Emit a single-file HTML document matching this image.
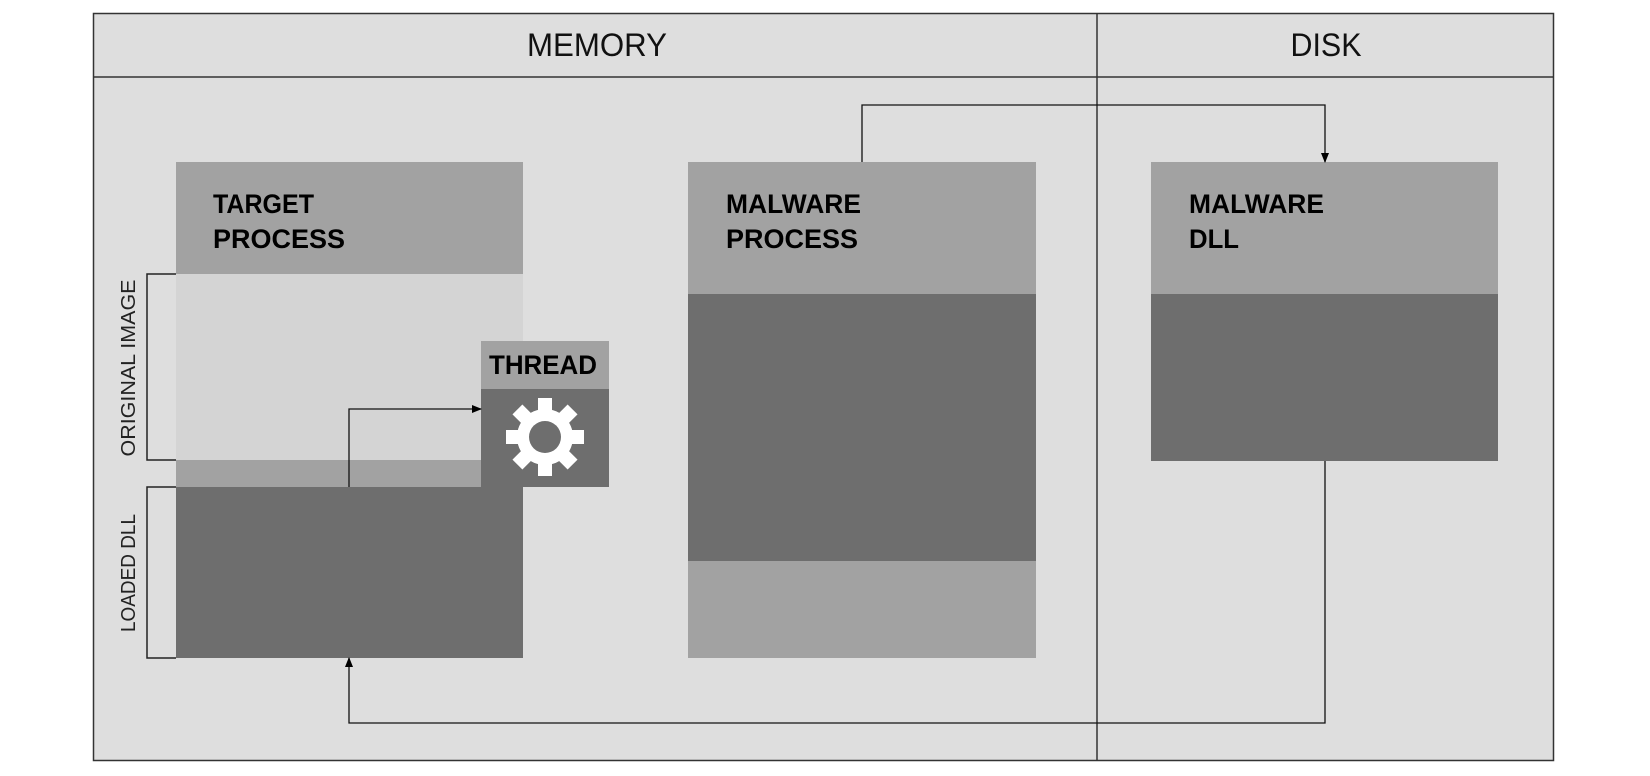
<!DOCTYPE html>
<html><head><meta charset="utf-8"><style>html,body{margin:0;padding:0;background:#fff}svg{display:block}</style></head>
<body>
<svg width="1650" height="776" viewBox="0 0 1650 776" xmlns="http://www.w3.org/2000/svg" font-family="Liberation Sans, sans-serif">
<defs><marker id="ah" markerWidth="10" markerHeight="10" refX="9" refY="5" orient="auto" markerUnits="userSpaceOnUse"><path d="M0,1 L10,5 L0,9 Z" fill="#000"/></marker></defs>
<rect x="93.5" y="13.5" width="1460" height="747" fill="#dedede" stroke="#333" stroke-width="1.5"/>
<line x1="93" y1="77" x2="1554" y2="77" stroke="#333" stroke-width="1.5"/>
<line x1="1097" y1="13" x2="1097" y2="761" stroke="#333" stroke-width="1.5"/>
<text x="597" y="56" font-size="32" text-anchor="middle" textLength="140" lengthAdjust="spacingAndGlyphs" fill="#111">MEMORY</text>
<text x="1326" y="56" font-size="32" text-anchor="middle" textLength="71" lengthAdjust="spacingAndGlyphs" fill="#111">DISK</text>
<!-- target process -->
<rect x="176" y="162" width="347" height="112" fill="#a2a2a2"/>
<rect x="176" y="274" width="347" height="186" fill="#d4d4d4"/>
<rect x="176" y="460" width="347" height="27" fill="#a2a2a2"/>
<rect x="176" y="487" width="347" height="171" fill="#6e6e6e"/>
<text x="213" y="213" font-size="27" font-weight="bold" textLength="101" lengthAdjust="spacingAndGlyphs">TARGET</text>
<text x="213" y="248" font-size="27" font-weight="bold" textLength="132" lengthAdjust="spacingAndGlyphs">PROCESS</text>
<!-- thread -->
<rect x="481" y="341" width="128" height="48" fill="#a2a2a2"/>
<rect x="481" y="389" width="128" height="98" fill="#6e6e6e"/>
<text x="489" y="374" font-size="27" font-weight="bold" textLength="108" lengthAdjust="spacingAndGlyphs">THREAD</text>
<g transform="translate(545,437)" fill="#fff">
<circle r="28"/>
<g id="t"><rect x="-7" y="-39" width="14" height="14"/></g>
<use href="#t" transform="rotate(45)"/><use href="#t" transform="rotate(90)"/><use href="#t" transform="rotate(135)"/>
<use href="#t" transform="rotate(180)"/><use href="#t" transform="rotate(225)"/><use href="#t" transform="rotate(270)"/><use href="#t" transform="rotate(315)"/>
<circle r="16" fill="#6e6e6e"/>
</g>
<!-- brackets -->
<path d="M176,274 H147 V460 H176" fill="none" stroke="#222" stroke-width="1.5"/>
<path d="M176,487 H147 V658 H176" fill="none" stroke="#222" stroke-width="1.5"/>
<text transform="translate(135,368) rotate(-90)" font-size="20" text-anchor="middle" textLength="177" lengthAdjust="spacingAndGlyphs" fill="#222">ORIGINAL IMAGE</text>
<text transform="translate(135,573) rotate(-90)" font-size="20" text-anchor="middle" textLength="118" lengthAdjust="spacingAndGlyphs" fill="#222">LOADED DLL</text>
<!-- malware process -->
<rect x="688" y="162" width="348" height="132" fill="#a2a2a2"/>
<rect x="688" y="294" width="348" height="267" fill="#6e6e6e"/>
<rect x="688" y="561" width="348" height="97" fill="#a2a2a2"/>
<text x="726" y="213" font-size="27" font-weight="bold" textLength="135" lengthAdjust="spacingAndGlyphs">MALWARE</text>
<text x="726" y="248" font-size="27" font-weight="bold" textLength="132" lengthAdjust="spacingAndGlyphs">PROCESS</text>
<!-- malware dll -->
<rect x="1151" y="162" width="347" height="132" fill="#a2a2a2"/>
<rect x="1151" y="294" width="347" height="167" fill="#6e6e6e"/>
<text x="1189" y="213" font-size="27" font-weight="bold" textLength="135" lengthAdjust="spacingAndGlyphs">MALWARE</text>
<text x="1189" y="248" font-size="27" font-weight="bold" textLength="50" lengthAdjust="spacingAndGlyphs">DLL</text>
<!-- arrows -->
<path d="M349,487 V409 H481" fill="none" stroke="#111" stroke-width="1.3" marker-end="url(#ah)"/>
<path d="M862,162 V105 H1325 V162" fill="none" stroke="#111" stroke-width="1.3" marker-end="url(#ah)"/>
<path d="M1325,461 V723 H349 V658" fill="none" stroke="#111" stroke-width="1.3" marker-end="url(#ah)"/>
</svg>
</body></html>
